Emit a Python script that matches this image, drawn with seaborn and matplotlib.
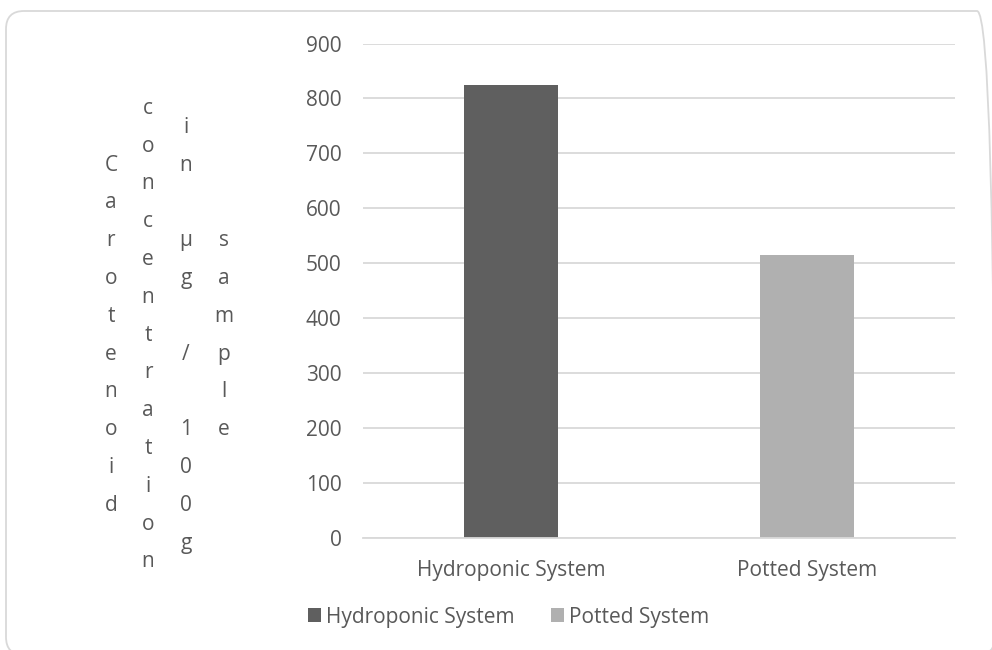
import matplotlib
matplotlib.use("Agg")
import matplotlib.pyplot as plt
import seaborn as sns
import pandas as pd
from matplotlib.patches import FancyBboxPatch, Patch
from matplotlib.font_manager import FontProperties

categories = ["Hydroponic System", "Potted System"]
values = [825, 515]
colors = ["#5f5f5f", "#b0b0b0"]
y_ticks = [0, 100, 200, 300, 400, 500, 600, 700, 800, 900]
ylabel_columns = ["Carotenoid", "concentration", "in µg / 100g", "sample"]

sns.set_theme(style="white")
plt.rcParams['font.family'] = ['Open Sans', 'DejaVu Sans']

FS = 15
TXT = "#595959"
W, H = 992, 650

df = pd.DataFrame({"system": categories, "value": values})

fig = plt.figure(figsize=(W/100, H/100), dpi=100)
ax = fig.add_axes([363/W, 1-538/H, (955-363)/W, (538-43.5)/H])

sns.barplot(data=df, x="system", y="value", hue="system", palette=colors,
            width=0.315, dodge=False, legend=False, ax=ax, saturation=1,
            linewidth=0)

ax.set_ylim(0, 900)
ax.set_xlim(-0.5, 1.5)
ax.set_yticks(y_ticks)
ax.yaxis.grid(True, color="#d9d9d9", linewidth=1.3)
ax.set_axisbelow(True)
for s in ["top", "right", "left"]:
    ax.spines[s].set_visible(False)
ax.spines["bottom"].set_color("#d9d9d9")
ax.spines["bottom"].set_linewidth(1.3)
ax.tick_params(axis="both", length=0, labelsize=FS, labelcolor=TXT)
ax.tick_params(axis="y", pad=15.5)
ax.tick_params(axis="x", pad=15.5)
ax.set_xlabel("")
ax.set_ylabel("")

# stacked vertical y-axis title (one column per word group)
renderer = fig.canvas.get_renderer()
fp = FontProperties(family=['Open Sans', 'DejaVu Sans'], size=FS)
_, lp_h, lp_d = renderer.get_text_width_height_descent("lp", fp, ismath=False)
asc = lp_h - lp_d
em = FS * 100 / 72
pitch = 37.8
mid = 335.0
col_x = [111, 148, 186, 224]
for txt, x in zip(ylabel_columns, col_x):
    n = len(txt)
    first_center = mid - (n - 1) / 2 * pitch
    top = first_center + 0.27 * em - asc
    fig.text(x/W, 1-top/H, "\n".join(txt), ha="center", va="top",
             fontproperties=fp, color=TXT, linespacing=(pitch - lp_d)/asc)

handles = [Patch(facecolor=c, edgecolor="none", label=l) for c, l in zip(colors, categories)]
fig.legend(handles=handles, loc="center", bbox_to_anchor=(508.5/W, 1-617/H),
           ncol=2, frameon=False, fontsize=FS, labelcolor=TXT,
           handlelength=0.62, handleheight=0.62, handletextpad=0.25,
           columnspacing=1.75)

border = FancyBboxPatch((6/W, -5/H), 989/W, 644/H,
                        boxstyle="round,pad=0,rounding_size=%f" % (18/W),
                        mutation_aspect=W/H,
                        transform=fig.transFigure, facecolor="none",
                        edgecolor="#d9d9d9", linewidth=1.3)
fig.patches.append(border)

fig.savefig("out.png", dpi=100)
